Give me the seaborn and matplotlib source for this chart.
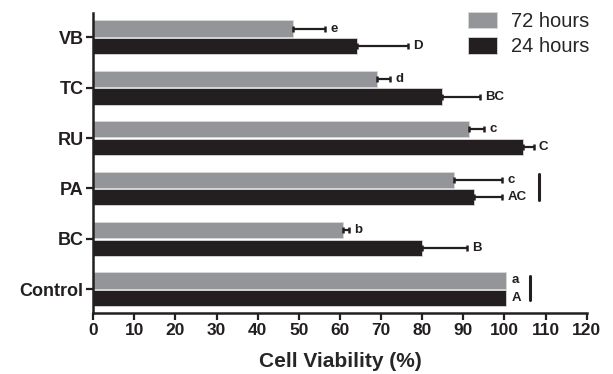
import matplotlib
matplotlib.use("Agg")
import matplotlib.pyplot as plt
import seaborn as sns
import pandas as pd
from matplotlib.patches import Patch

categories = ["VB", "TC", "RU", "PA", "BC", "Control"]
hours = ["72 hours", "24 hours"]
viability_72 = [48.7, 68.9, 91.5, 87.8, 60.7, 100.5]
viability_24 = [64.2, 84.8, 104.5, 92.5, 80.0, 100.5]
err_72 = [7.7, 3.3, 3.6, 11.7, 1.5, 0.0]
err_24 = [12.4, 9.2, 2.6, 7.0, 10.9, 0.0]
letters_72 = ["e", "d", "c", "c", "b", "a"]
letters_24 = ["D", "BC", "C", "AC", "B", "A"]
x_ticks = list(range(0, 121, 10))

colors = {"72 hours": "#939598", "24 hours": "#231f20"}

df = pd.DataFrame({
    "Sample": categories * 2,
    "Hours": ["72 hours"] * len(categories) + ["24 hours"] * len(categories),
    "Viability": viability_72 + viability_24,
})

sns.set_style("ticks")
plt.rcParams["font.family"] = ["Liberation Sans", "DejaVu Sans"]

fig = plt.figure(figsize=(6.13, 3.74), dpi=100)
ax = fig.add_axes([0.152, 0.162, 0.805, 0.804])

sns.barplot(data=df, x="Viability", y="Sample", hue="Hours", order=categories,
            hue_order=hours, palette=colors, saturation=1, width=0.7, gap=0.08,
            errorbar=None, orient="h", legend=False, ax=ax,
            edgecolor="#d8d8d8", linewidth=0.6)

errs = [err_72, err_24]
labs = [letters_72, letters_24]
for cont, err, lab in zip(ax.containers, errs, labs):
    for bar, e, l in zip(cont, err, lab):
        w = bar.get_width()
        yc = bar.get_y() + bar.get_height() / 2
        if e > 0:
            ax.errorbar(w, yc, xerr=[[0], [e]], fmt="none", ecolor="#231f20",
                        elinewidth=1.6, capsize=2.2, capthick=1.8)
        ax.text(w + e + 1.2, yc, l, ha="left", va="center", fontsize=9.5,
                fontweight="bold", color="#231f20")

# grouping brackets
pa = categories.index("PA")
ctl = categories.index("Control")
ax.plot([108.4, 108.4], [pa - 0.28, pa + 0.22], color="#231f20", lw=2.2)
ax.plot([106.2, 106.2], [ctl - 0.26, ctl + 0.22], color="#231f20", lw=2.2)

ax.set_xlim(0, 120)
ax.set_ylim(5.48, -0.49)
ax.set_xticks(x_ticks)
ax.set_xticklabels([str(t) for t in x_ticks], fontsize=12.5, fontweight="bold")
ax.set_yticks(range(len(categories)))
ax.set_yticklabels(categories, fontsize=13, fontweight="bold")
ax.set_ylabel("")
ax.set_xlabel("Cell Viability (%)", fontsize=15, fontweight="bold", labelpad=10)

for s in ["top", "right"]:
    ax.spines[s].set_visible(False)
for s in ["left", "bottom"]:
    ax.spines[s].set_linewidth(1.8)
    ax.spines[s].set_color("#231f20")
ax.tick_params(axis="both", width=1.6, length=5, colors="#231f20", pad=2)

handles = [Patch(facecolor=colors[h], edgecolor="#d8d8d8", linewidth=0.6, label=h) for h in hours]
ax.legend(handles=handles, loc="upper right", bbox_to_anchor=(1.022, 1.03), frameon=False,
          fontsize=14.5, handlelength=1.45, handleheight=0.9, handletextpad=0.7,
          labelspacing=0.3, borderaxespad=0.0)

fig.savefig("out.png", dpi=100)
